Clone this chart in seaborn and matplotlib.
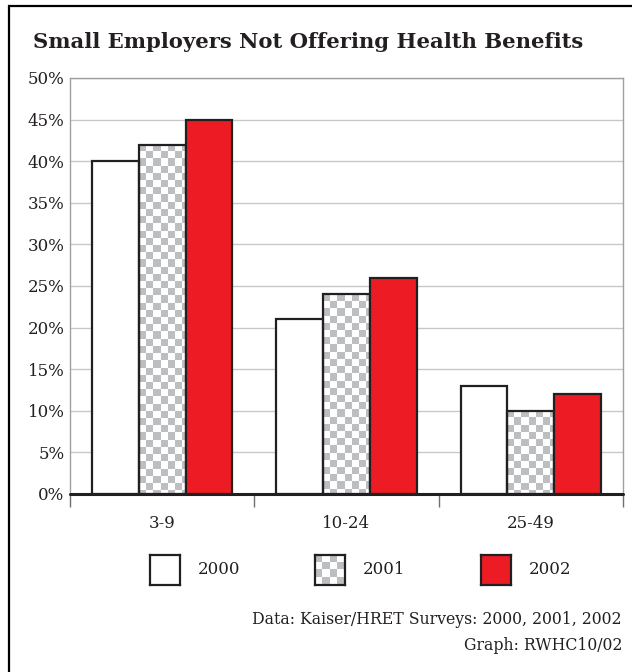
import numpy as np
import pandas as pd
import matplotlib
matplotlib.use("Agg")
import matplotlib.pyplot as plt
from matplotlib.patches import Rectangle
from matplotlib.colors import ListedColormap
import seaborn as sns

# ---- data ----
categories = ["3-9", "10-24", "25-49"]
years = ["2000", "2001", "2002"]
pct_2000 = [40, 21, 13]
pct_2001 = [42, 24, 10]
pct_2002 = [45, 26, 12]
yticks = [0, 5, 10, 15, 20, 25, 30, 35, 40, 45, 50]
ytick_labels = [f"{v}%" for v in yticks]
title = "Small Employers Not Offering Health Benefits"
source_lines = ["Data: Kaiser/HRET Surveys: 2000, 2001, 2002", "Graph: RWHC10/02"]

df = pd.DataFrame({
    "size": categories * 3,
    "year": [years[0]] * 3 + [years[1]] * 3 + [years[2]] * 3,
    "pct": pct_2000 + pct_2001 + pct_2002,
})

EDGE = "#231f20"
RED = "#ed1c24"
CHECK = "#bdbec2"
GRID = "#c8c8c8"
SPINE = "#a0a0a0"
FONT = "DejaVu Serif"

sns.set_style("white")
plt.rcParams["font.family"] = FONT

W, H = 632, 672
fig = plt.figure(figsize=(W / 100, H / 100), dpi=100)

# frame (only top/left visible)
fig.patches.append(Rectangle((8.5 / W, -0.1), 1.2, 1 - 6.3 / H + 0.1,
                             transform=fig.transFigure, fill=False,
                             edgecolor="black", linewidth=1.6))

ax = fig.add_axes([70 / W, 1 - 494 / H, 553 / W, 416 / H])
sns.barplot(data=df, x="size", y="pct", hue="year", order=categories,
            hue_order=years, palette=["white", "white", RED],
            edgecolor=EDGE, linewidth=1.6, width=0.76, saturation=1,
            legend=False, ax=ax, zorder=2)

ax.set_xlim(-0.5, 2.5)
ax.set_ylim(0, 50)

# checkerboard on 2001 bars
cmap = ListedColormap(["white", CHECK])
cell = 7.2
dx = cell / 553 * 3
dy = cell / 416 * 50
bars = sorted([p for p in ax.patches if isinstance(p, Rectangle)], key=lambda p: p.get_x())
for i, p in enumerate(bars):
    if i % 3 != 1:
        continue
    p.set_facecolor("none")
    x0, w, h = p.get_x(), p.get_width(), p.get_height()
    nx = int(np.ceil(w / dx)) + 1
    ny = int(np.ceil(h / dy)) + 1
    ii, jj = np.indices((ny, nx))
    board = ((ii + jj + 1) % 2).astype(float)
    im = ax.imshow(board, cmap=cmap, vmin=0, vmax=1, interpolation="nearest",
                   extent=[x0, x0 + nx * dx, h - ny * dy, h], origin="upper",
                   aspect="auto", zorder=1.5)
    im.set_clip_path(p)

ax.set_xlim(-0.5, 2.5)
ax.set_ylim(0, 50)

ax.set_axisbelow(True)
ax.yaxis.grid(True, color=GRID, linewidth=1)
ax.xaxis.grid(False)
ax.set_yticks(yticks)
ax.set_yticklabels(ytick_labels)
ax.set_xlabel("")
ax.set_ylabel("")
for s in ["top", "right", "left"]:
    ax.spines[s].set_color(SPINE)
    ax.spines[s].set_linewidth(1)
ax.spines["bottom"].set_visible(False)
ax.axhline(0, color=EDGE, linewidth=2.2, zorder=3, clip_on=False)

ax.set_xticks([-0.5, 0.5, 1.5, 2.5], minor=True)
ax.tick_params(axis="x", which="minor", bottom=True, length=9, color="#707070",
               width=1, direction="out")
ax.tick_params(axis="x", which="major", bottom=True, length=0, pad=15,
               labelsize=12, labelcolor=EDGE)
ax.tick_params(axis="y", which="major", length=0, pad=4, labelsize=12, labelcolor=EDGE)

# title
fig.text(33 / W, 1 - 47.5 / H, title, fontsize=15.2, fontweight="bold",
         color=EDGE, ha="left", va="baseline", family=FONT)

# legend
sq = 30
leg = [(150, "2000"), (315, "2001"), (481, "2002")]
for x, lab in leg:
    lax = fig.add_axes([x / W, 1 - 585 / H, sq / W, sq / H])
    lax.set_xlim(0, 1)
    lax.set_ylim(0, 1)
    lax.set_xticks([])
    lax.set_yticks([])
    if lab == years[1]:
        n = 4
        ii, jj = np.indices((n, n))
        lax.imshow(((ii + jj + 1) % 2).astype(float), cmap=cmap, vmin=0, vmax=1,
                   interpolation="nearest", extent=[0, 1, 0, 1], aspect="auto")
    else:
        lax.set_facecolor("white" if lab == years[0] else RED)
    for s in lax.spines.values():
        s.set_color(EDGE)
        s.set_linewidth(1.6)
        s.set_visible(True)
    fig.text((x + 48) / W, 1 - 570 / H, lab, fontsize=12, color=EDGE,
             ha="left", va="center", family=FONT)

fig.text(622 / W, 1 - 620 / H, source_lines[0], fontsize=11.3, color=EDGE,
         ha="right", va="center", family=FONT)
fig.text(622 / W, 1 - 645 / H, source_lines[1], fontsize=11.3, color=EDGE,
         ha="right", va="center", family=FONT)

fig.savefig("out.png", dpi=100)
